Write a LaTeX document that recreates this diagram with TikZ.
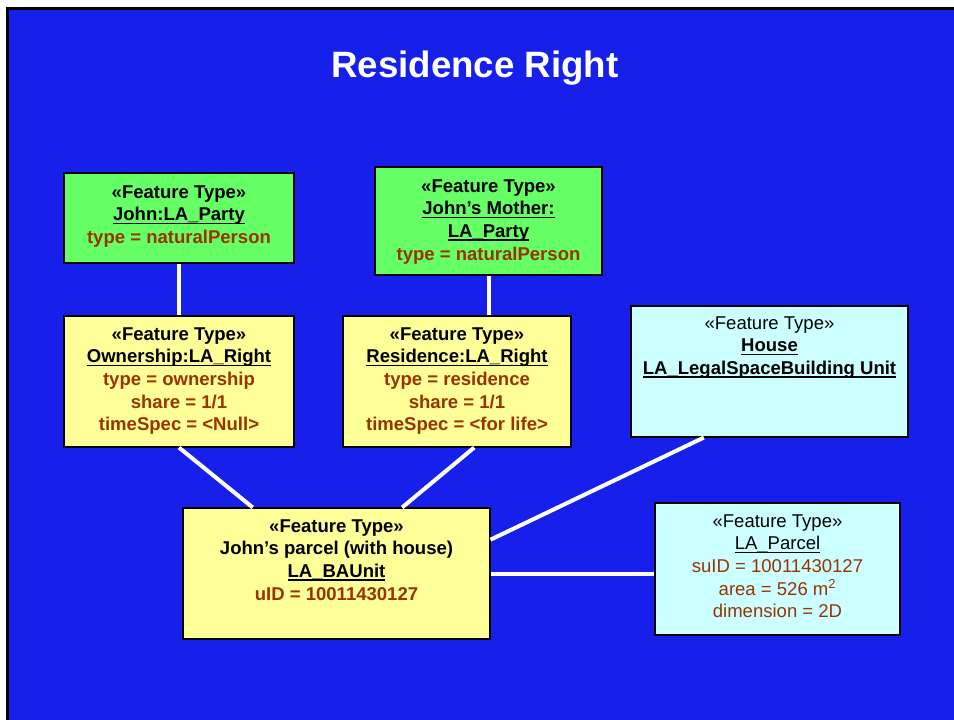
\documentclass[tikz,border=0pt]{standalone}
\usepackage{fontspec}
\setmainfont{Liberation Sans}
\usetikzlibrary{calc,fit}
\definecolor{bgblue}{HTML}{1620EA}
\definecolor{grn}{HTML}{66FF66}
\definecolor{ylw}{HTML}{FFFF99}
\definecolor{cyn}{HTML}{CCFFFF}
\definecolor{attr}{HTML}{993300}
\newsavebox{\ulbx}
\newcommand{\uln}[1]{\sbox{\ulbx}{#1}\rlap{\rule[-2.6pt]{\wd\ulbx}{1.2pt}}\usebox{\ulbx}}
\begin{document}
\begin{tikzpicture}[x=0.75pt,y=-0.75pt,
  umlbox/.style={draw=black,line width=0.8pt,inner sep=0pt},
  txt/.style={anchor=north,align=center,inner sep=0pt,font=\fontsize{13.9}{17}\selectfont},
  btxt/.style={txt,font=\fontsize{13.9}{17}\selectfont\bfseries},
  conn/.style={draw=white,line width=3pt},
  title/.style={anchor=base,inner sep=0pt,text=white,font=\fontsize{27.5}{33}\selectfont\bfseries}]
\useasboundingbox (0,0) rectangle (954,720);
\fill[white] (0,0) rectangle (954,720);
\fill[black] (6,7) rectangle (954,720);
\fill[bgblue] (9,10) rectangle (954,720);

\node[title] (ttl) at (475,78) {Residence Right};

% boxes
\node[umlbox,fill=grn,fit={(64,173) (294,263)}] (party1) {};
\node[umlbox,fill=grn,fit={(375,167) (602,275)}] (party2) {};
\node[umlbox,fill=ylw,fit={(64,316) (294,447)}] (own) {};
\node[umlbox,fill=ylw,fit={(343,316) (571,447)}] (res) {};
\node[umlbox,fill=cyn,fit={(631,306) (908,437)}] (house) {};
\node[umlbox,fill=ylw,fit={(183,508) (490,639)}] (bau) {};
\node[umlbox,fill=cyn,fit={(655,503) (900,635)}] (parcel) {};

% texts
\node[btxt] (party1t) at (179,185) {«Feature Type»\\\uln{John:LA\_Party}\\\textcolor{attr}{type = naturalPerson}};
\node[btxt] (party2t) at (488.5,179) {«Feature Type»\\\uln{John’s Mother:}\\\uln{LA\_Party}\\\textcolor{attr}{type = naturalPerson}};
\node[btxt] (ownt) at (179,327) {«Feature Type»\\\uln{Ownership:LA\_Right}\\\textcolor{attr}{type = ownership}\\\textcolor{attr}{share = 1/1}\\\textcolor{attr}{timeSpec = <Null>}};
\node[btxt] (rest) at (457,327) {«Feature Type»\\\uln{Residence:LA\_Right}\\\textcolor{attr}{type = residence}\\\textcolor{attr}{share = 1/1}\\\textcolor{attr}{timeSpec = <for life>}};
\node[txt] (houset) at (769.5,316) {«Feature Type»\\\textbf{\uln{House}}\\\textbf{\uln{LA\_LegalSpaceBuilding Unit}}};
\node[btxt] (baut) at (336.5,519) {«Feature Type»\\John’s parcel (with house)\\\uln{LA\_BAUnit}\\\textcolor{attr}{uID = 10011430127}};
\node[txt] (parcelt) at (777.5,514) {«Feature Type»\\\uln{LA\_Parcel}\\\textcolor{attr}{suID = 10011430127}\\\textcolor{attr}{area = 526 m\textsuperscript{2}}\\\textcolor{attr}{dimension = 2D}};

% connectors
\draw[conn] (party1.south) -- (own.north);
\draw[conn] (party2.south) -- (party2.south |- res.north);
\draw[conn] (own.south) -- ($(bau.north west)!0.228!(bau.north east)$);
\draw[conn] ($(res.south west)!0.575!(res.south east)$) -- ($(bau.north west)!0.713!(bau.north east)$);
\draw[conn] ($(house.south west)!0.264!(house.south east)$) -- ($(bau.north east)!0.244!(bau.south east)$);
\draw[conn] (bau.east) -- (bau.east -| parcel.west);
\end{tikzpicture}
\end{document}
